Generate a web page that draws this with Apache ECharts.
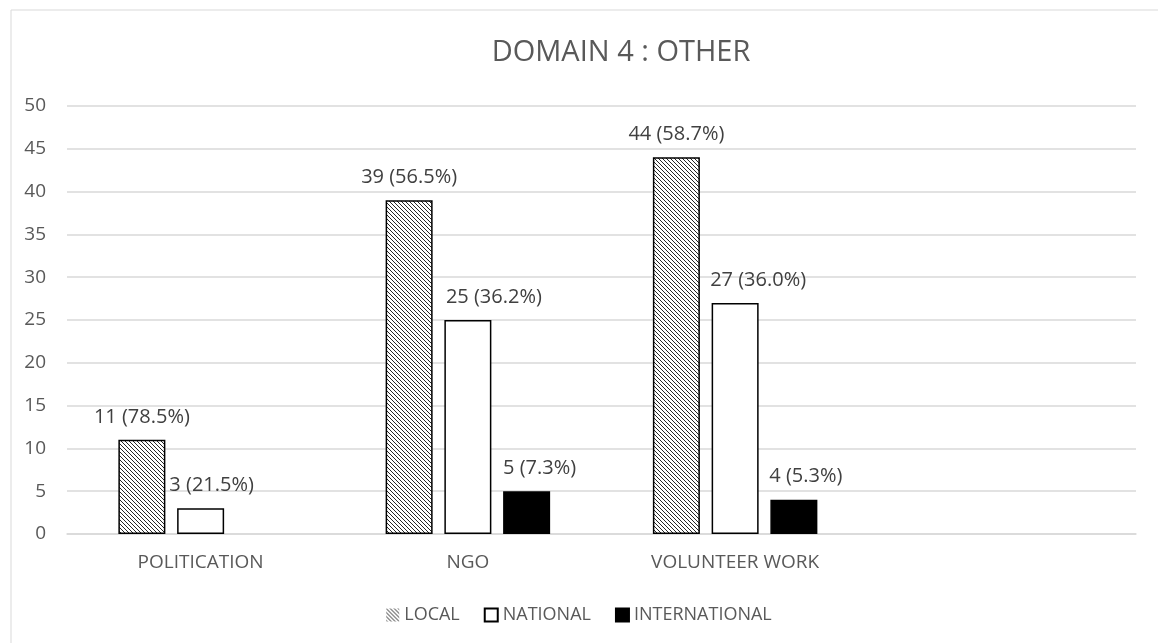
<!DOCTYPE html>
<html>
<head>
<meta charset="utf-8">
<script src="https://cdn.jsdelivr.net/npm/echarts@6/dist/echarts.min.js"></script>
<style>
  html, body { margin: 0; padding: 0; background: #fff; }
  #chart { width: 1158px; height: 643px; }
</style>
</head>
<body>
<div id="chart"></div>
<script>
// Categories (the last slot is left empty, as in the original layout)
const categories = ['POLITICATION', 'NGO', 'VOLUNTEER WORK', ''];
const seriesNames = ['LOCAL', 'NATIONAL', 'INTERNATIONAL'];

// Counts per category
const localValues = [11, 39, 44];
const nationalValues = [3, 25, 27];
const internationalValues = [null, 5, 4];

// Share of each category's total, shown next to the count
const localPct = ['78.5%', '56.5%', '58.7%'];
const nationalPct = ['21.5%', '36.2%', '36.0%'];
const internationalPct = [null, '7.3%', '5.3%'];

// Y-axis ticks
const yTicks = [0, 5, 10, 15, 20, 25, 30, 35, 40, 45, 50];

const FONT = '"Open Sans", "Noto Sans", sans-serif';
const GREY_TEXT = '#595959';

// Diagonal hatch fill for the LOCAL bars
function hatch() {
  const s = 4;
  const c = document.createElement('canvas');
  c.width = s; c.height = s;
  const g = c.getContext('2d');
  g.fillStyle = '#ffffff';
  g.fillRect(0, 0, s, s);
  g.strokeStyle = '#262626';
  g.lineWidth = 1;
  g.beginPath();
  for (let k = -s; k <= s; k += s) {
    g.moveTo(k, 0);
    g.lineTo(k + s, s);
  }
  g.stroke();
  return { image: c, repeat: 'repeat' };
}

// Horizontal nudges for labels so neighbouring labels do not collide
const labelShift = {
  NATIONAL: [11, 26, 23],
  INTERNATIONAL: [0, 13, 12]
};

function buildData(values, pcts, name) {
  return values.map((v, i) => {
    if (v === null) return '-';
    const shift = (labelShift[name] || [])[i] || 0;
    return {
      value: v,
      pct: pcts[i],
      label: { offset: [shift, 0] }
    };
  });
}

function labelFmt(p) {
  return p.value + ' (' + p.data.pct + ')';
}

const barLabel = {
  show: true,
  position: 'top',
  distance: 13,
  color: '#404040',
  fontFamily: FONT,
  fontSize: 20,
  formatter: labelFmt
};

const chart = echarts.init(document.getElementById('chart'), null, { renderer: 'canvas' });

chart.setOption({
  backgroundColor: '#ffffff',
  animation: false,
  title: {
    text: 'DOMAIN 4 : OTHER',
    left: 616,
    top: 33,
    textAlign: 'center',
    textStyle: { color: GREY_TEXT, fontFamily: FONT, fontWeight: 'normal', fontSize: 29 }
  },
  graphic: [{
    type: 'rect',
    shape: { x: 11, y: 10, width: 1200, height: 700 },
    style: { fill: 'none', stroke: '#d9d9d9', lineWidth: 1 },
    silent: true
  }],
  legend: {
    data: [
      { name: 'LOCAL', itemStyle: { borderWidth: 0 } },
      { name: 'NATIONAL' },
      { name: 'INTERNATIONAL' }
    ],
    left: 'center',
    top: 601,
    icon: 'rect',
    itemWidth: 13,
    itemHeight: 13,
    itemGap: 24,
    textStyle: { color: GREY_TEXT, fontFamily: FONT, fontSize: 18 }
  },
  grid: { left: 67, right: 22, top: 106, bottom: 109, containLabel: false },
  xAxis: {
    type: 'category',
    data: categories,
    axisLine: { lineStyle: { color: '#d9d9d9', width: 1.5 } },
    axisTick: { show: false },
    axisLabel: { color: GREY_TEXT, fontFamily: FONT, fontSize: 19, margin: 19 }
  },
  yAxis: {
    type: 'value',
    min: yTicks[0],
    max: yTicks[yTicks.length - 1],
    interval: yTicks[1] - yTicks[0],
    axisLine: { show: false },
    axisTick: { show: false },
    splitLine: { lineStyle: { color: '#d9d9d9', width: 1.5 } },
    axisLabel: { color: GREY_TEXT, fontFamily: FONT, fontSize: 19, margin: 21 }
  },
  series: [
    {
      name: seriesNames[0],
      type: 'bar',
      barWidth: 47,
      barGap: '25%',
      data: buildData(localValues, localPct, 'LOCAL'),
      itemStyle: { color: hatch(), borderColor: '#000', borderWidth: 1.5 },
      label: barLabel
    },
    {
      name: seriesNames[1],
      type: 'bar',
      barWidth: 47,
      barGap: '25%',
      data: buildData(nationalValues, nationalPct, 'NATIONAL'),
      itemStyle: { color: '#ffffff', borderColor: '#000', borderWidth: 1.5 },
      label: barLabel
    },
    {
      name: seriesNames[2],
      type: 'bar',
      barWidth: 47,
      barGap: '25%',
      data: buildData(internationalValues, internationalPct, 'INTERNATIONAL'),
      itemStyle: { color: '#000000', borderColor: '#000', borderWidth: 1.5 },
      label: barLabel
    }
  ]
});
</script>
</body>
</html>
